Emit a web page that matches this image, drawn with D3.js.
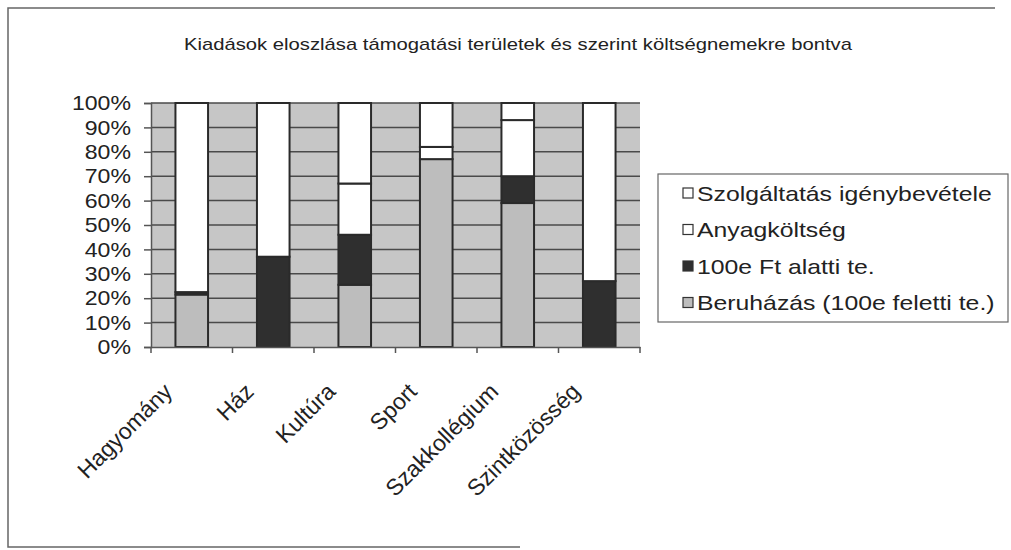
<!DOCTYPE html>
<html>
<head>
<meta charset="utf-8">
<script src="https://cdn.jsdelivr.net/npm/d3@7"></script>
<style>
  body { margin: 0; background: #fff; }
  text { font-family: "Liberation Sans", Arial, sans-serif; fill: #222; }
</style>
</head>
<body>
<svg id="canvas"></svg>
<script>
// data (percent of each category)
let categories = ['Hagyomány', 'Ház', 'Kultúra', 'Sport', 'Szakkollégium', 'Szintközösség'];
let seriesNames = ['Beruházás (100e feletti te.)', '100e Ft alatti te.', 'Anyagköltség', 'Szolgáltatás igénybevétele'];
let beruhazas = [21.5, 0, 25.5, 77, 59, 0];
let alatti100e = [1, 37, 20.5, 0, 11, 27];
let anyag = [77.5, 63, 21, 5, 23, 73];
let szolg = [0, 0, 33, 18, 7, 0];
let yTicks = [0, 10, 20, 30, 40, 50, 60, 70, 80, 90, 100];

let colors = ['#bdbdbd', '#2f2f2f', '#ffffff', '#ffffff'];

let width = 1011;
let height = 550;

let canvas = d3.select('#canvas')
canvas.attr('width', width)
canvas.attr('height', height)

// outer frame (scanned page: right side not visible)
canvas.append('path')
  .attr('d', 'M995,8 L8,8 L8,547 L520,547')
  .attr('fill', 'none').attr('stroke', '#666').attr('stroke-width', 1.5)

canvas.append('text')
  .attr('x', 518).attr('y', 50)
  .attr('text-anchor', 'middle')
  .attr('font-size', 17)
  .attr('textLength', 668)
  .attr('lengthAdjust', 'spacingAndGlyphs')
  .text('Kiadások eloszlása támogatási területek és szerint költségnemekre bontva')

let xScale = d3.scaleBand()
  .domain(categories)
  .range([151, 640])
  .paddingInner(0.6)
  .paddingOuter(0.3)

let yScale = d3.scaleLinear()
  .domain([0, 100])
  .range([347, 103])

// plot background
canvas.append('rect')
  .attr('x', 151).attr('y', yScale(100))
  .attr('width', 489).attr('height', yScale(0) - yScale(100))
  .attr('fill', '#c6c6c6')

// gridlines
canvas.append('g')
  .selectAll('line')
  .data(yTicks.filter(d => d > 0))
  .enter()
  .append('line')
  .attr('x1', 151).attr('x2', 640)
  .attr('y1', d => yScale(d)).attr('y2', d => yScale(d))
  .attr('stroke', '#4a4a4a').attr('stroke-width', 1.5)

// stacked bars
let rows = categories.map((c, i) => ({
  cat: c, s0: beruhazas[i], s1: alatti100e[i], s2: anyag[i], s3: szolg[i]
}))
let stack = d3.stack().keys(['s0', 's1', 's2', 's3'])(rows)

canvas.append('g')
  .selectAll('g')
  .data(stack)
  .enter()
  .append('g')
  .attr('fill', (d, i) => colors[i])
  .selectAll('rect')
  .data(d => d.filter(p => p[1] - p[0] > 0))
  .enter()
  .append('rect')
  .attr('x', d => xScale(d.data.cat))
  .attr('width', xScale.bandwidth())
  .attr('y', d => yScale(d[1]))
  .attr('height', d => yScale(d[0]) - yScale(d[1]))
  .attr('stroke', '#2a2a2a')
  .attr('stroke-width', 2)

// axes
let xAxis = d3.axisBottom(xScale).tickSize(0).tickFormat('')
let xg = canvas.append('g')
  .attr('transform', 'translate(0,' + yScale(0) + ')')
  .call(xAxis)
xg.select('.domain').attr('stroke', '#555').attr('stroke-width', 1.5)
// tick marks between categories
let bounds = categories.map(c => xScale(c) - xScale.step() * xScale.paddingInner() / 2)
bounds.push(640)
xg.selectAll('.sep')
  .data(bounds)
  .enter()
  .append('line')
  .attr('x1', d => d).attr('x2', d => d)
  .attr('y1', 0).attr('y2', 6)
  .attr('stroke', '#555').attr('stroke-width', 1.5)

xg.selectAll('.lab')
  .data(categories)
  .enter()
  .append('text')
  .attr('font-size', 23)
  .attr('text-anchor', 'end')
  .attr('transform', d => 'translate(' + (xScale(d) + xScale.bandwidth() / 2 - 18) + ',46) rotate(-45)')
  .text(d => d)

let yAxis = d3.axisLeft(yScale)
  .tickValues(yTicks)
  .tickSize(7)
  .tickFormat(d => d + '%')
let yg = canvas.append('g')
  .attr('transform', 'translate(151,0)')
  .call(yAxis)
yg.select('.domain').attr('stroke', '#555').attr('stroke-width', 1.5)
yg.selectAll('.tick line').attr('stroke', '#555').attr('stroke-width', 1.5)
yg.selectAll('.tick text')
  .attr('x', -20)
  .attr('font-size', 21)
  .attr('font-family', '"Liberation Sans", Arial, sans-serif')
  .attr('fill', '#222')
  .each(function() {
    let w = this.getComputedTextLength()
    d3.select(this).attr('textLength', w * 1.1).attr('lengthAdjust', 'spacingAndGlyphs')
  })

// legend
let legend = canvas.append('g')
legend.append('rect')
  .attr('x', 658).attr('y', 174).attr('width', 350).attr('height', 148)
  .attr('fill', '#fff').attr('stroke', '#666').attr('stroke-width', 1.2)

let legendOrder = [3, 2, 1, 0]
let legItems = legend.selectAll('.item')
  .data(legendOrder)
  .enter()
  .append('g')
  .attr('transform', (d, i) => 'translate(683,' + (193 + i * 36.5) + ')')
legItems.append('rect')
  .attr('x', 0).attr('y', -5).attr('width', 10).attr('height', 10)
  .attr('fill', d => colors[d])
  .attr('stroke', '#333').attr('stroke-width', 1.2)
legItems.append('text')
  .attr('x', 14).attr('dy', '0.36em')
  .attr('font-size', 21)
  .text(d => seriesNames[d])
  .each(function() {
    let w = this.getComputedTextLength()
    d3.select(this).attr('textLength', w * 1.18).attr('lengthAdjust', 'spacingAndGlyphs')
  })
</script>
</body>
</html>
